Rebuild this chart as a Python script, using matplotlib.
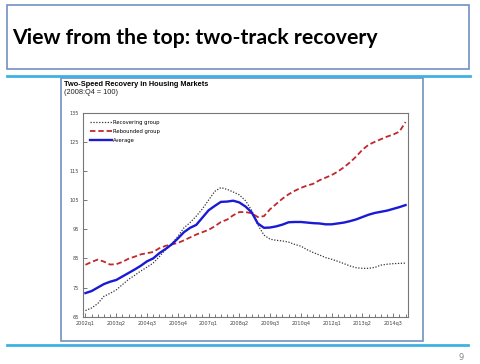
import matplotlib
matplotlib.use("Agg")
from matplotlib import pyplot as plt
from matplotlib.patches import Rectangle
import numpy as np

# quarterly index values, 2002q1 onwards (2008:Q4 = 100)
recovering = [67.1, 68.0, 69.5, 72.0, 73.0, 74.2, 76.0, 77.8, 79.2, 80.7,
              82.0, 83.4, 85.6, 88.0, 90.0, 92.5, 95.5, 97.3, 99.5, 102.0,
              105.0, 108.0, 109.3, 108.7, 107.8, 106.8, 104.8, 101.5, 96.5, 93.0,
              91.6, 91.2, 91.0, 90.6, 89.8, 89.2, 88.0, 87.0, 86.2, 85.3,
              84.7, 84.0, 83.2, 82.4, 81.8, 81.6, 81.6, 81.9, 82.7, 83.0,
              83.2, 83.3, 83.4]
rebounded = [82.8, 83.8, 84.6, 83.9, 82.9, 83.0, 83.8, 84.9, 85.6, 86.4,
             86.8, 87.2, 88.5, 89.3, 89.8, 90.3, 91.2, 92.2, 93.2, 94.0,
             94.8, 96.0, 97.5, 98.3, 99.8, 100.9, 100.9, 100.5, 99.2, 99.5,
             101.9, 103.7, 105.5, 107.0, 108.2, 109.2, 110.0, 110.6, 111.8, 112.7,
             113.6, 114.8, 116.3, 118.0, 120.0, 122.3, 124.0, 125.0, 125.9, 126.8,
             127.5, 128.5, 131.8]
average = [73.1, 73.8, 75.0, 76.2, 77.0, 77.6, 78.8, 80.0, 81.2, 82.5,
           84.0, 85.0, 86.8, 88.2, 89.8, 91.8, 94.0, 95.5, 96.5, 99.0,
           101.5, 103.0, 104.4, 104.5, 104.8, 104.2, 102.8, 100.8, 97.0, 95.5,
           95.6, 96.0, 96.6, 97.4, 97.5, 97.5, 97.3, 97.1, 97.0, 96.7,
           96.7, 97.0, 97.3, 97.8, 98.4, 99.2, 100.0, 100.6, 101.0, 101.4,
           102.0, 102.6, 103.3]
tick_labels = ['2002q1', '2003q2', '2004q3', '2005q4', '2007q1', '2008q2',
               '2009q3', '2010q4', '2012q1', '2013q2', '2014q3']

W, H = 480, 364
fig = plt.figure(figsize=(W / 100, H / 100), dpi=100)

# slide background drawn in pixel coords
bg = fig.add_axes([0, 0, 1, 1], zorder=0)
bg.set_xlim(0, W)
bg.set_ylim(H, 0)
bg.axis('off')
box_col = '#7290c4'
line_col = '#3fb2e3'
bg.add_patch(Rectangle((7, 5), 462, 64, fill=False, ec=box_col, lw=1.2))
bg.text(12, 38, 'View from the top: two-track recovery', fontsize=15.3,
        fontweight='bold', family='Lato', va='center', ha='left')
bg.plot([7, 470], [75.5, 75.5], color=line_col, lw=2)
bg.add_patch(Rectangle((61, 78), 362, 263, fill=False, ec=box_col, lw=1.2))
bg.plot([7, 468], [345, 345], color=line_col, lw=2)
bg.text(461, 357, '9', fontsize=6, color='#888888', ha='center', va='center')
bg.text(64, 84, 'Two-Speed Recovery in Housing Markets', fontsize=5.3,
        fontweight='bold', family='Liberation Sans', va='center')
bg.text(64, 93, '(2008:Q4 = 100)', fontsize=5.3, family='Liberation Sans',
        va='center', color='#222222')

x = np.arange(len(average))
ax = fig.add_axes([83 / W, 1 - 316.7 / H, 325 / W, 204 / H], zorder=1)
ax.plot(x, recovering, color='#333333', ls=(0, (1, 1.3)), lw=0.9,
        label='Recovering group')
ax.plot(x, rebounded, color='#c0282e', ls=(0, (3, 1.6)), lw=1.3,
        label='Rebounded group')
ax.plot(x, average, color='#1a1ad6', lw=1.7, label='Average')

ax.set_xlim(-0.4, 52.4)
ax.set_ylim(65, 135)
ax.set_yticks(range(65, 136, 10))
ax.set_xticks(range(0, 51, 5))
ax.set_xticklabels(tick_labels)
ax.set_xticks(range(0, 53), minor=True)
ax.tick_params(axis='both', labelsize=3.6, direction='in', length=3,
               width=0.5, pad=3, colors='#444444')
ax.tick_params(axis='x', which='minor', direction='in', length=2, width=0.5,
               colors='#444444')
for s in ax.spines.values():
    s.set_color('#777777')
    s.set_linewidth(0.8)
leg = ax.legend(loc='upper left', frameon=False, fontsize=3.8,
                handlelength=4, labelspacing=0.75, borderaxespad=1.0,
                handletextpad=0.3)

fig.savefig('out.png', dpi=100)
